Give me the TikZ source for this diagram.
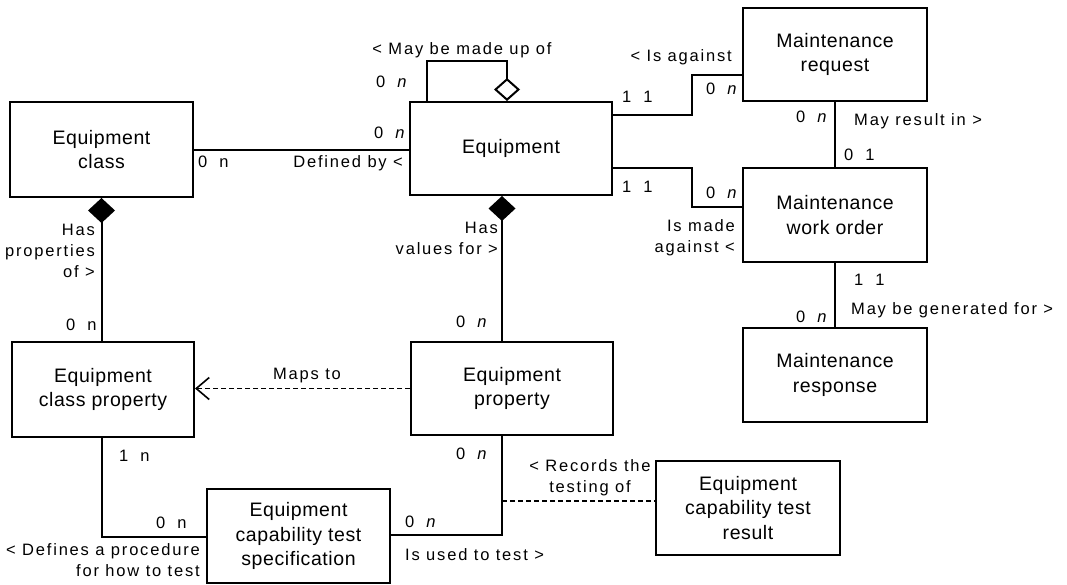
\documentclass[tikz,border=0pt]{standalone}
\usepackage{fontspec}
\setmainfont{Liberation Sans}
\newfontfamily\boxfont[LetterSpace=3]{Liberation Sans}
\newfontfamily\lblfont[LetterSpace=11]{Liberation Sans}
\usetikzlibrary{arrows.meta}
\newcommand{\zn}{0\hspace{12pt}\textit{n}}
\newcommand{\znu}{0\hspace{12pt}n}
\begin{document}
\begin{tikzpicture}[x=1pt,y=-1pt,
    entity/.style={draw,line width=2pt,inner sep=0pt,align=center,
      minimum width=184,minimum height=94,font={\boxfont\fontsize{19.5}{24.5}\selectfont}},
    link/.style={line width=2pt},
    maps/.style={line width=1.6pt,dash pattern=on 5pt off 3pt},
    lbl/.style={inner sep=0pt,font={\lblfont\fontsize{16.5}{21}\selectfont}},
    whole/.style={{Diamond[length=25pt,width=27pt]}-},
    part/.style={-{Diamond[open,length=23pt,width=26pt]}}]
  \useasboundingbox (0,0) rectangle (1067,584);
  % entities
  \node[entity,minimum width=183,minimum height=95] (ecl) at (101.5,149.5) {Equipment\\class};
  \node[entity,minimum width=202,minimum height=93] (eq) at (511,148.5) {Equipment};
  \node[entity,minimum height=93] (mreq) at (835,54.5) {Maintenance\\request};
  \node[entity] (mwo) at (835,215) {Maintenance\\work order};
  \node[entity] (mresp) at (835,375) {Maintenance\\response};
  \node[entity,minimum width=182,minimum height=95] (ecp) at (103,389.5) {Equipment\\class property};
  \node[entity,minimum width=202,minimum height=93] (ep) at (512,388.5) {Equipment\\property};
  \node[entity,minimum width=183] (ects) at (298.5,536) {Equipment\\capability test\\specification};
  \node[entity] (ectr) at (748,508) {Equipment\\capability test\\result};
  % connectors
  \draw[link,part] ([xshift=-84]eq.north) |- ++(80,-40) -- ([xshift=-4]eq.north);
  \draw[link] (ecl.east) -- (ecl.east -| eq.west);
  \draw[link,whole] (ecl.south) -- (ecl.south |- ecp.north);
  \draw[link,whole] ([xshift=-9]eq.south) -- ([xshift=-10]ep.north);
  \draw[link] (eq.east |- 0,115) -- (692,115) |- (mreq.west |- 0,75);
  \draw[link] (eq.east |- 0,168) -- (692,168) |- (mwo.west |- 0,207);
  \draw[link] (mreq.south) -- (mwo.north);
  \draw[link] (mwo.south) -- (mresp.north);
  \draw[maps,-{Straight Barb[length=13pt,width=22pt]}] (ep.west) -- (ep.west -| ecp.east);
  \draw[link] ([xshift=-1]ecp.south) |- (ects.west |- 0,537);
  \draw[link] (ects.east |- 0,535) -| ([xshift=-10]ep.south);
  \coordinate (rec) at ([xshift=-10]ep.south |- 0,501);
  \draw[maps] (rec) -- (ectr.west |- rec);
  % labels
  \node[lbl] (l1) at (462,50) {< May be made up of};
  \node[lbl,anchor=west] (c1) at (376,82) {\zn};
  \node[lbl,anchor=west] (c2) at (374,133) {\zn};
  \node[lbl,anchor=west] (c3) at (198,162) {\znu};
  \node[lbl,anchor=east] (l2) at (403,163) {Defined by <};
  \node[lbl,anchor=east,align=right] (l3) at (95,251) {Has\\properties\\of >};
  \node[lbl,anchor=east,align=right] (l4) at (498,238.5) {Has\\values for >};
  \node[lbl,anchor=east] (l5) at (732,57) {< Is against};
  \node[lbl,anchor=west] (c4) at (622,97) {1\hspace{12pt}1};
  \node[lbl,anchor=west] (c5) at (706,89) {\zn};
  \node[lbl,anchor=west] (c6) at (796,117) {\zn};
  \node[lbl,anchor=west] (l6) at (854,121) {May result in >};
  \node[lbl,anchor=west] (c7) at (844,155) {0\hspace{12pt}1};
  \node[lbl,anchor=west] (c8) at (622,187) {1\hspace{12pt}1};
  \node[lbl,anchor=west] (c9) at (706,193) {\zn};
  \node[lbl,anchor=east,align=right] (l7) at (735,238) {Is made\\against <};
  \node[lbl,anchor=west] (c10) at (854,280) {1\hspace{12pt}1};
  \node[lbl,anchor=west] (c11) at (796,317) {\zn};
  \node[lbl,anchor=west] (l8) at (851,310) {May be generated for >};
  \node[lbl,anchor=west] (c12) at (66,325) {\znu};
  \node[lbl,anchor=west] (c13) at (456,322) {\zn};
  \node[lbl] (l9) at (307,376) {Maps to};
  \node[lbl,anchor=west] (c14) at (119,456) {1\hspace{12pt}n};
  \node[lbl,anchor=west] (c15) at (156,523) {\znu};
  \node[lbl,anchor=east,align=right] (l10) at (200,560.5) {< Defines a procedure\\for how to test};
  \node[lbl,anchor=west] (c16) at (405,522) {\zn};
  \node[lbl,anchor=west] (l11) at (405,555) {Is used to test >};
  \node[lbl,anchor=west] (c17) at (456,454) {\zn};
  \node[lbl,align=center] (l12) at (590,478) {< Records the\\testing of};
\end{tikzpicture}
\end{document}
